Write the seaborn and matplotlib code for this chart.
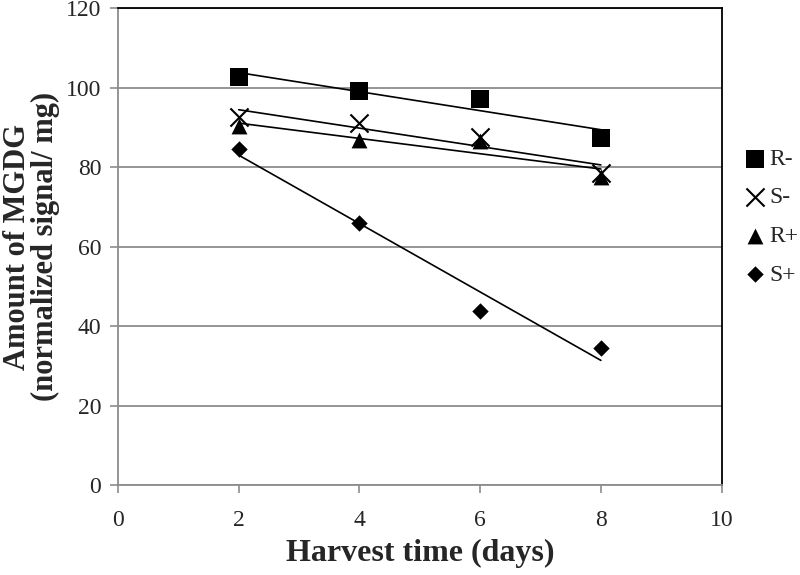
import matplotlib
matplotlib.use('Agg')
import matplotlib.pyplot as plt
import pandas as pd
import seaborn as sns

days = [2, 4, 6, 8]
r_minus = [102.6, 99.2, 97.2, 87.3]
s_minus = [92.7, 91.2, 87.5, 78.5]
r_plus = [90.2, 86.9, 86.5, 77.5]
s_plus = [84.5, 65.9, 43.8, 34.5]

series_names = ['R-', 'S-', 'R+', 'S+']
series_values = [r_minus, s_minus, r_plus, s_plus]
markers = {'R-': 's', 'S-': 'x', 'R+': '^', 'S+': 'D'}
sizes = {'R-': 150, 'S-': 170, 'R+': 130, 'S+': 70}

sns.set_style('white')
plt.rcParams['font.family'] = ['Liberation Serif', 'DejaVu Serif']

fig, ax = plt.subplots(figsize=(8, 5.75), dpi=100)
fig.subplots_adjust(left=0.1475, right=0.902, top=0.986, bottom=0.1565)

for name, vals in zip(series_names, series_values):
    df = pd.DataFrame({'day': days, 'value': vals})
    # lineare Trendlinie wie in Excel
    sns.regplot(data=df, x='day', y='value', ax=ax, ci=None, scatter=False,
                color='black', line_kws={'linewidth': 1.2})
    sns.scatterplot(data=df, x='day', y='value', ax=ax, marker=markers[name],
                    s=sizes[name], color='black', linewidth=1.5 if name == 'S-' else 0,
                    label=name, zorder=3)

ax.set_xlim(0, 10)
ax.set_ylim(0, 120)
ax.set_xticks(range(0, 11, 2))
ax.set_yticks(range(0, 121, 20))
ax.yaxis.grid(True, color='#8c8c8c', linewidth=1.3)
ax.set_axisbelow(True)

for side in ['left', 'bottom']:
    ax.spines[side].set_color('#8c8c8c')
    ax.spines[side].set_linewidth(1.3)
for side in ['top', 'right']:
    ax.spines[side].set_color('black')
    ax.spines[side].set_linewidth(1.3)

ax.tick_params(axis='both', direction='out', length=6, width=1.2, color='#8c8c8c',
               labelsize=17, pad=6, bottom=True, left=True)
ax.tick_params(axis='x', pad=12)

ax.set_xlabel('Harvest time (days)', fontsize=23, fontweight='bold', labelpad=6)
ax.set_ylabel('Amount of MGDG\n(normalized signal/ mg)', fontsize=22, fontweight='bold',
              labelpad=4, linespacing=0.95)

ax.legend(loc='center left', bbox_to_anchor=(0.995, 0.562), frameon=False, fontsize=17,
          handletextpad=0.05, labelspacing=0.72, borderaxespad=0.6, handlelength=1.1)

plt.savefig('out.png', dpi=100)
